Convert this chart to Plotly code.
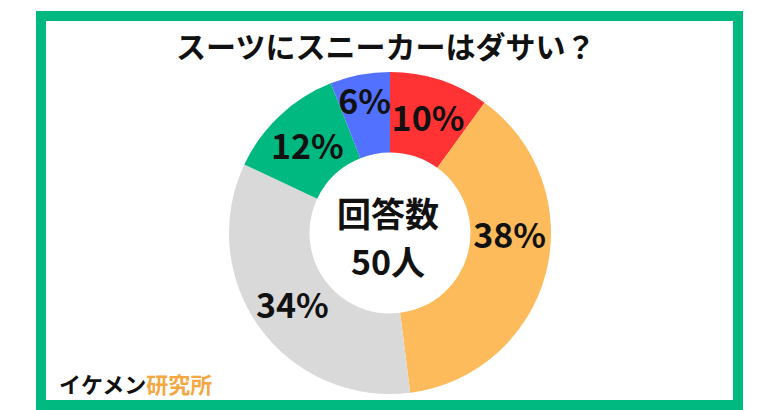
import numpy as np
import plotly.graph_objects as go

labels = ["回答A", "回答B", "回答C", "回答D", "回答E"]
values = [10, 38, 34, 12, 6]
colors = ["#FF3333", "#FDBB5B", "#D9D9D9", "#00B981", "#5271FF"]
# slices whose label plotly would slide to the axis crossing get an annotation at the slice middle
label_at_mid = [False, False, True, False, False]
title_text = "スーツにスニーカーはダサい？"
center_lines = ["回答数", "50人"]

W, H = 780, 410
OFF = 8  # page body offset
MT, MB = 72 - OFF, H - (394 - OFF)
ML, MR = 0, 2 * OFF
PH = H - MT - MB
PW = W - ML - MR
FONT = "Noto Sans CJK JP"
LABEL_FONT = dict(family=FONT, size=34, color="#111111", weight="bold")

def px(x):
    return (x - OFF - ML) / PW

def py(y):
    return (H - MB - (y - OFF)) / PH

fig = go.Figure(go.Pie(
    labels=labels, values=values, hole=0.5, sort=False,
    direction="clockwise", rotation=0,
    marker=dict(colors=colors, line=dict(width=0)),
    texttemplate="%{value}%",
    textposition=["none" if m else "inside" for m in label_at_mid],
    insidetextorientation="horizontal",
    textfont=LABEL_FONT,
    showlegend=False, hoverinfo="label+percent",
))

fig.update_layout(
    width=W, height=H,
    margin=dict(l=ML, r=MR, t=MT, b=MB),
    paper_bgcolor="white", plot_bgcolor="white",
    uniformtext=dict(minsize=34, mode="show"),
    font=dict(family=FONT),
)

# labels at slice middle (angle from data, ring-middle radius)
vals = np.array(values, dtype=float)
cum = np.cumsum(vals)
mid = (cum - vals / 2) / vals.sum() * 2 * np.pi
rfrac = 0.75  # radial fraction of pie radius (ring middle for hole 0.5)
for v, a, m in zip(values, mid, label_at_mid):
    if not m:
        continue
    fig.add_annotation(xref="paper", yref="paper",
                       x=0.5 + rfrac * 0.5 * PH / PW * np.sin(a),
                       y=0.5 + rfrac * 0.5 * np.cos(a),
                       xanchor="center", yanchor="middle",
                       text=f"{v}%", showarrow=False, font=LABEL_FONT)

fig.add_shape(type="rect", xref="paper", yref="paper",
              x0=px(41), x1=px(738), y0=py(405), y1=py(16),
              line=dict(color="#00B981", width=10), fillcolor="rgba(0,0,0,0)")

fig.add_annotation(xref="paper", yref="paper", x=px(385), y=py(45),
                   xanchor="center", yanchor="middle",
                   text=title_text, showarrow=False,
                   font=dict(family=FONT, size=30, color="#111111", weight="bold"))
fig.add_annotation(xref="paper", yref="paper", x=px(388), y=py(212),
                   xanchor="center", yanchor="middle",
                   text=center_lines[0], showarrow=False,
                   font=dict(family=FONT, size=34, color="#111111", weight="bold"))
fig.add_annotation(xref="paper", yref="paper", x=px(388), y=py(260),
                   xanchor="center", yanchor="middle",
                   text=center_lines[1], showarrow=False,
                   font=dict(family=FONT, size=34, color="#111111", weight="bold"))
fig.add_annotation(xref="paper", yref="paper", x=px(57), y=py(383),
                   xanchor="left", yanchor="middle",
                   text="イケメン<span style='color:#F5A742'>研究所</span>", showarrow=False,
                   font=dict(family=FONT, size=22, color="#111111", weight="bold"))

fig.write_html("out.html")
